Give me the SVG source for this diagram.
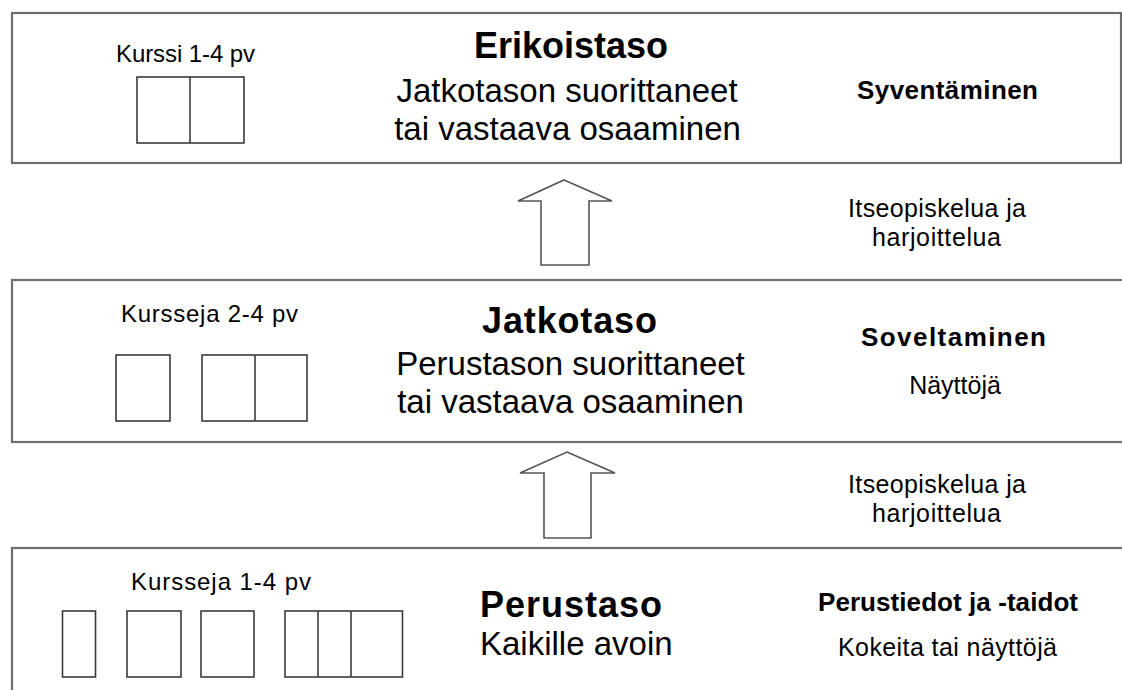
<svg xmlns="http://www.w3.org/2000/svg" width="1122" height="690" viewBox="0 0 1122 690">
<style>
.lvl{fill:#fff;stroke:#6e6e6e;stroke-width:2.2}
.c{fill:#fff;stroke:#3a3a3a;stroke-width:1.6}
.arr{fill:#fff;stroke:#555;stroke-width:1.6;stroke-linejoin:miter}
text{font-family:"Liberation Sans",Arial,sans-serif;fill:#000;text-anchor:middle}
.sm{font-size:24px}
.md{font-size:25px}
.hd{font-size:36px;font-weight:bold}
.sub{font-size:33px}
.rb{font-size:26px;font-weight:bold}
.l{text-anchor:start}
</style>
<rect width="1122" height="690" fill="#fff"/>
<g id="erikoistaso">
<rect class="lvl" x="12" y="13" width="1109" height="150"/>
<text class="sm" x="185.5" y="62" font-size="23" textLength="139">Kurssi 1-4 pv</text>
<rect class="c" x="137" y="77" width="107" height="66"/>
<line class="c" x1="190" y1="77" x2="190" y2="143"/>
<text class="hd" x="571" y="58">Erikoistaso</text>
<text class="sub" x="567" y="102">Jatkotason suorittaneet</text>
<text class="sub" x="567.5" y="140">tai vastaava osaaminen</text>
<text class="rb" x="947.5" y="99" textLength="181">Syventäminen</text>
</g>
<g id="jatkotaso">
<rect class="lvl" x="12" y="280" width="1125" height="162"/>
<text class="sm" x="209.5" y="322" textLength="177">Kursseja 2-4 pv</text>
<rect class="c" x="116" y="355" width="54" height="66"/>
<rect class="c" x="202" y="355" width="105" height="66"/>
<line class="c" x1="255" y1="355" x2="255" y2="421"/>
<text class="hd" x="569.5" y="333" textLength="175">Jatkotaso</text>
<text class="sub" x="570.5" y="375">Perustason suorittaneet</text>
<text class="sub" x="570.5" y="413">tai vastaava osaaminen</text>
<text class="rb" x="953.5" y="346" textLength="185">Soveltaminen</text>
<text class="md" x="955" y="394">Näyttöjä</text>
</g>
<g id="perustaso">
<rect class="lvl" x="12" y="548" width="1125" height="160"/>
<text class="sm" x="221" y="590" textLength="180">Kursseja 1-4 pv</text>
<rect class="c" x="62.5" y="611" width="33" height="66"/>
<rect class="c" x="127" y="611" width="54" height="66"/>
<rect class="c" x="201" y="611" width="53" height="66"/>
<rect class="c" x="285" y="611" width="117.5" height="66"/>
<line class="c" x1="318" y1="611" x2="318" y2="677"/>
<line class="c" x1="351" y1="611" x2="351" y2="677"/>
<text class="hd l" x="480" y="617" textLength="182">Perustaso</text>
<text class="sub l" x="480" y="655">Kaikille avoin</text>
<text class="rb" x="948" y="611" textLength="260">Perustiedot ja -taidot</text>
<text class="md" x="947.5" y="656" textLength="219">Kokeita tai näyttöjä</text>
</g>
<g id="connectors">
<path class="arr" d="M564,180 L612,201 L589,201 L589,265 L541,265 L541,201 L518,201 Z"/>
<path class="arr" d="M567,452 L615,473 L591,473 L591,538 L544,538 L544,473 L520,473 Z"/>
<text class="md" x="937" y="217" textLength="178">Itseopiskelua ja</text>
<text class="md" x="936.5" y="246" textLength="129">harjoittelua</text>
<text class="md" x="937" y="493" textLength="178">Itseopiskelua ja</text>
<text class="md" x="936.5" y="522" textLength="129">harjoittelua</text>
</g>
</svg>
